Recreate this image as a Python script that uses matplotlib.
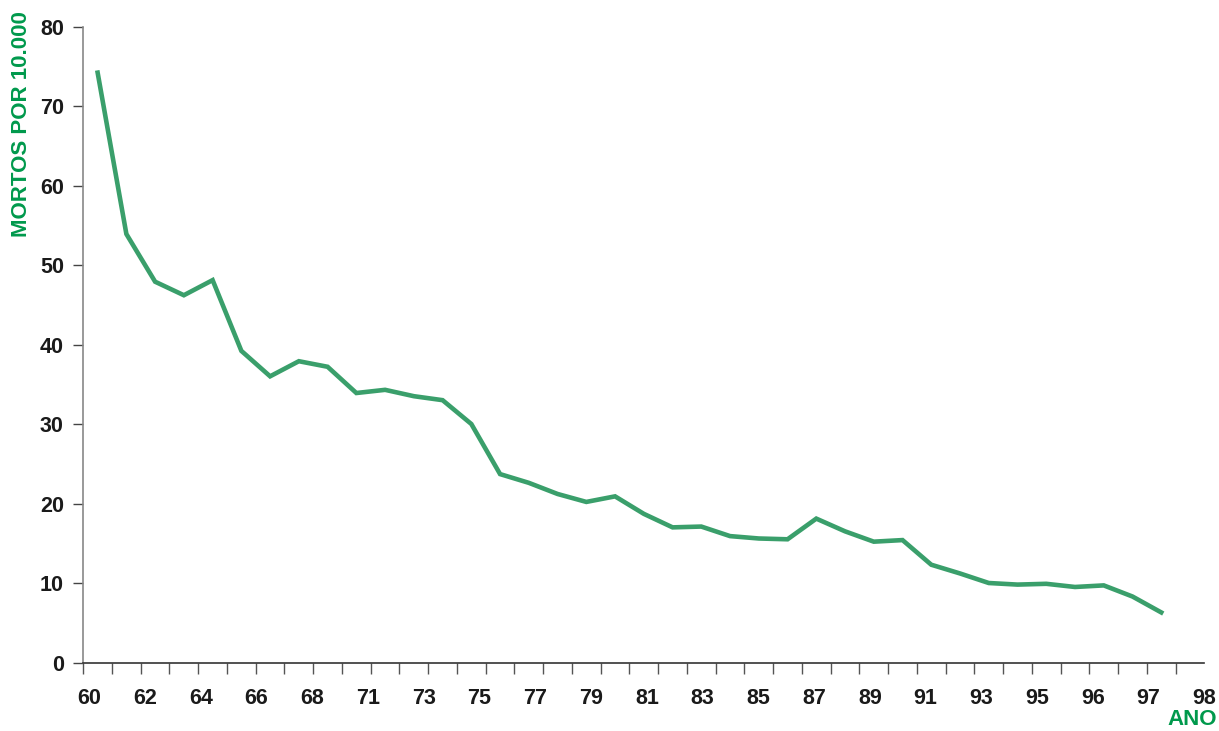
import numpy as np
import matplotlib
matplotlib.use("Agg")
import matplotlib.pyplot as plt

# Values (deaths per 10,000), one per category
mortos = [74.2, 53.9, 47.9, 46.2, 48.1, 39.2, 36.0, 37.9, 37.2, 33.9,
          34.3, 33.5, 33.0, 30.0, 23.7, 22.6, 21.2, 20.2, 20.9, 18.7,
          17.0, 17.1, 15.9, 15.6, 15.5, 18.1, 16.5, 15.2, 15.4, 12.3,
          11.2, 10.0, 9.8, 9.9, 9.5, 9.7, 8.3, 6.3]
n_categorias = 39
ano_labels = ["60", "62", "64", "66", "68", "71", "73", "75", "77", "79",
              "81", "83", "85", "87", "89", "91", "93", "95", "96", "97", "98"]
y_ticks = list(range(0, 81, 10))

verde = "#3a9f6b"
verde_texto = "#00994c"

plt.rcParams['font.family'] = ['Liberation Sans', 'DejaVu Sans']

fig = plt.figure(figsize=(12.19, 7.31), dpi=100)
ax = fig.add_axes([0.0683, 0.0937, 0.9197, 0.8700])

# points sit in the middle of each category
x = np.arange(len(mortos)) + 0.5
ax.plot(x, mortos, color=verde, linewidth=3.3, solid_joinstyle='miter')

ax.set_xlim(0, n_categorias)
ax.set_ylim(0, 80)

# tick marks between categories, labels spread along the axis
ax.set_xticks(np.arange(0, n_categorias + 1), minor=True)
ax.set_xticks(np.linspace(0.21, n_categorias, len(ano_labels)))
ax.set_xticklabels(ano_labels, fontsize=15.5, fontweight='bold', color='#1a1a1a')
ax.tick_params(axis='x', which='major', length=0, pad=18.5)
ax.tick_params(axis='x', which='minor', length=8, width=1, color='#555555', direction='out')

ax.set_yticks(y_ticks)
ax.set_yticklabels([str(v) for v in y_ticks], fontsize=15.5, fontweight='bold', color='#1a1a1a')
ax.tick_params(axis='y', length=7, width=1, color='#444444', pad=7)

for s in ['top', 'right']:
    ax.spines[s].set_visible(False)
ax.spines['left'].set_color('#888888')
ax.spines['left'].set_linewidth(1.2)
ax.spines['bottom'].set_color('#333333')
ax.spines['bottom'].set_linewidth(1.2)

fig.text(0.018, 0.83, "MORTOS POR 10.000", rotation=90, ha='center', va='center',
         fontsize=16, fontweight='bold', color=verde_texto)
fig.text(0.998, 0.0015, "ANO", ha='right', va='bottom',
         fontsize=16, fontweight='bold', color=verde_texto)

fig.savefig("out.png", dpi=100)
